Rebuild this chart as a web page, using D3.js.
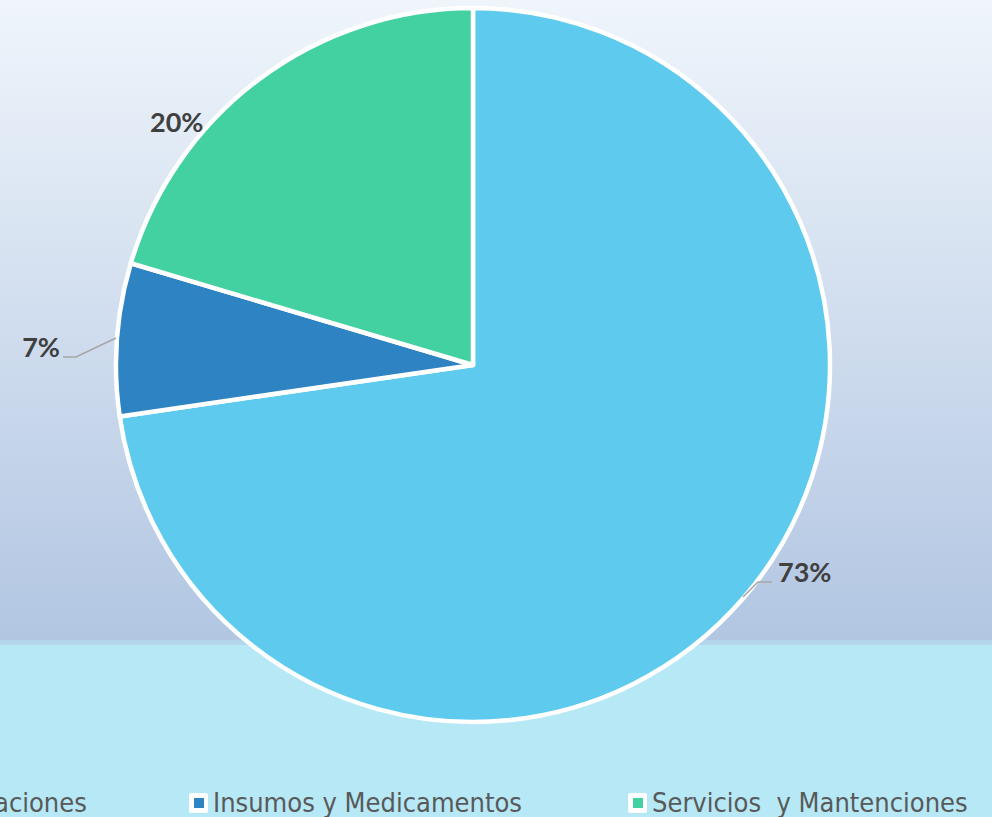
<!DOCTYPE html>
<html>
<head>
<meta charset="utf-8">
<style>
    body { margin: 0; overflow: hidden; }
    svg { display: block; }
    .label { font-family: Lato, 'Open Sans', sans-serif; font-weight: bold; font-size: 27px; fill: #404040; }
    .legend text { font-family: 'DejaVu Sans Condensed', 'Open Sans', sans-serif; font-size: 27px; fill: #595959; white-space: pre; }
</style>
</head>
<body>
<svg width="992" height="817"></svg>
<script src="https://d3js.org/d3.v7.min.js"></script>
<script>
// data
let categories = ["Remuneraciones", "Insumos y Medicamentos", "Servicios  y Mantenciones"];
let values = [72.7, 6.9, 20.4];
let colors = ["#5ecbee", "#2e83c3", "#43d1a2"];

let width = 992, height = 817;
let cx = 473, cy = 365, radius = 357;

let svg = d3.select("svg");

// background: gradient panel + cyan strip
let defs = svg.append("defs");
let grad = defs.append("linearGradient")
    .attr("id", "bg")
    .attr("x1", 0).attr("y1", 0).attr("x2", 0).attr("y2", 1);
grad.append("stop").attr("offset", "0%").attr("stop-color", "#eff5fb");
grad.append("stop").attr("offset", "100%").attr("stop-color", "#b2c6e2");

svg.append("rect")
    .attr("x", 0).attr("y", 0)
    .attr("width", width).attr("height", 640)
    .style("fill", "url(#bg)");
svg.append("rect")
    .attr("x", 0).attr("y", 640)
    .attr("width", width).attr("height", 5)
    .style("fill", "#b4d6ec");
svg.append("rect")
    .attr("x", 0).attr("y", 645)
    .attr("width", width).attr("height", height - 645)
    .style("fill", "#b6e8f6");

// pie
let pie = d3.pie().sort(null).value(d => d);
let arcs = pie(values);
let arc = d3.arc().innerRadius(0).outerRadius(radius);

let g = svg.append("g").attr("transform", `translate(${cx},${cy})`);

g.selectAll("path")
    .data(arcs)
    .join("path")
    .attr("d", arc)
    .style("fill", (d, i) => colors[i])
    .style("stroke", "white")
    .style("stroke-width", 4.5)
    .style("stroke-linejoin", "round");

// labels with leader lines (positions tuned to the original)
let pct = d3.format(".0%");
let labelPos = [
    { x: 778, y: 582, anchor: "start", line: [[743, 597], [758, 582], [772, 582]] },
    { x: 60, y: 357, anchor: "end", line: [[116, 338], [76, 357], [63, 357]] },
    { x: 150, y: 132, anchor: "start", line: null }
];

labelPos.forEach(function (p, i) {
    if (p.line) {
        svg.append("path")
            .attr("d", d3.line()(p.line))
            .style("fill", "none")
            .style("stroke", "#a6a6a6")
            .style("stroke-width", 1.5);
    }
    svg.append("text")
        .attr("class", "label")
        .attr("x", p.x)
        .attr("y", p.y)
        .attr("text-anchor", p.anchor)
        .text(pct(Math.round(values[i]) / 100));
});

// legend (first item runs off the left edge, as in the original)
let legendX = [-140, 189, 628];
let legend = svg.append("g").attr("class", "legend");
let items = legend.selectAll("g")
    .data(categories)
    .join("g")
    .attr("transform", (d, i) => `translate(${legendX[i]},792)`);

items.append("rect")
    .attr("x", 0).attr("y", 1)
    .attr("width", 19).attr("height", 20)
    .attr("rx", 2)
    .style("fill", "white");
items.append("rect")
    .attr("x", 5).attr("y", 6)
    .attr("width", 10).attr("height", 10)
    .style("fill", (d, i) => colors[i]);
items.append("text")
    .attr("x", 24)
    .attr("y", 20)
    .text(d => d);
</script>
</body>
</html>
